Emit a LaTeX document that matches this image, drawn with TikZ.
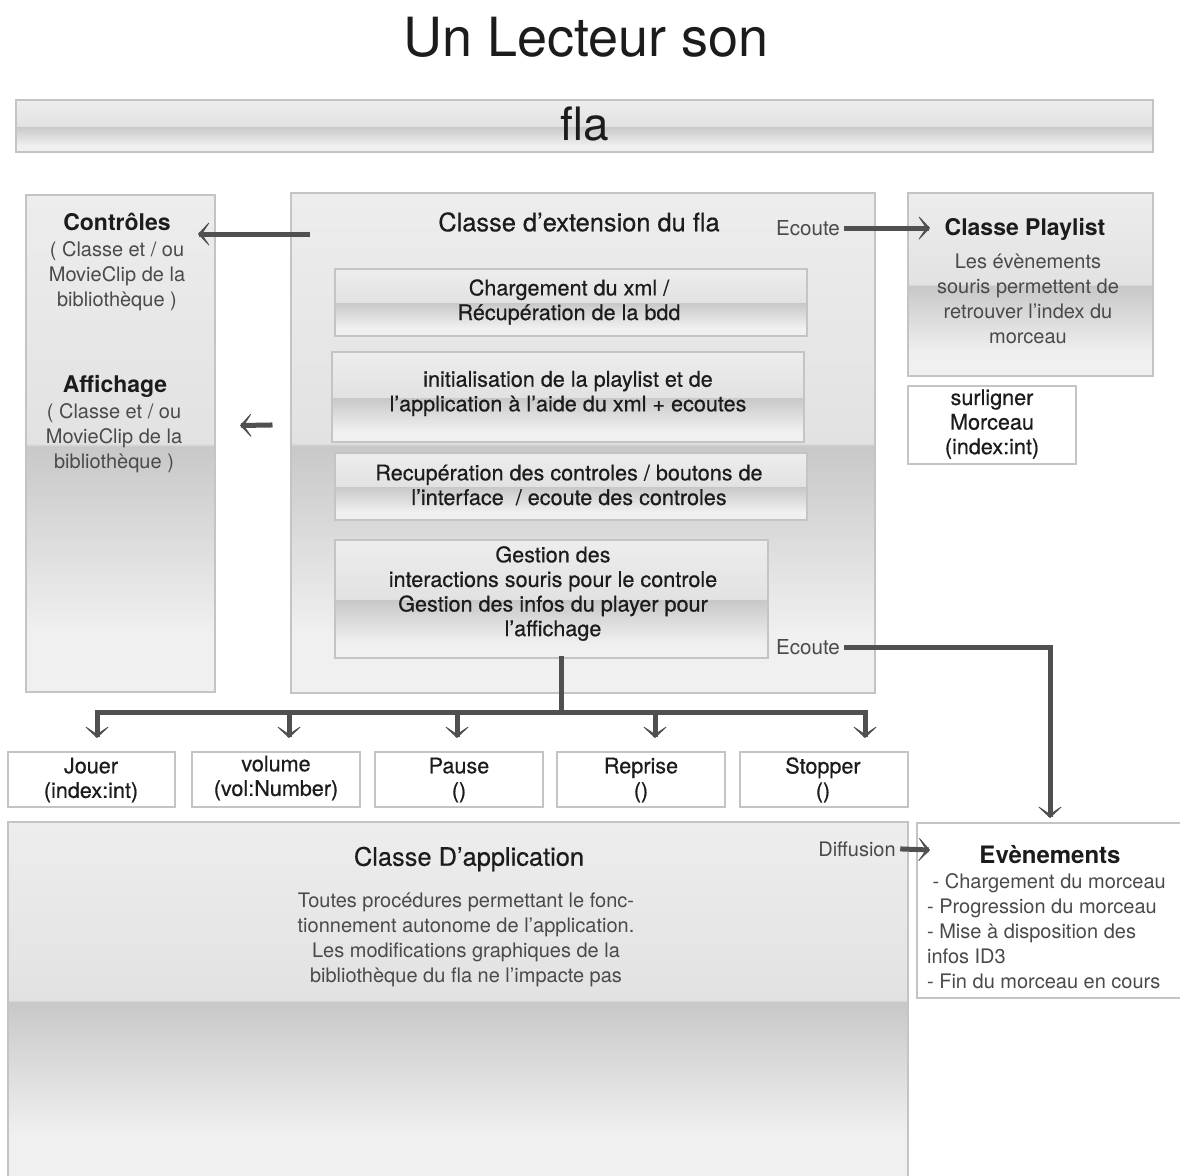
\documentclass[tikz,border=0pt]{standalone}
\usepackage{fontspec}
\setmainfont{TeX Gyre Heros}
\newfontfamily\medfont[FakeBold=0.5]{TeX Gyre Heros}
\usetikzlibrary{positioning,arrows.meta,fit,calc}

\definecolor{glTop}{HTML}{EDEDED}
\definecolor{glUp}{HTML}{E2E2E2}
\definecolor{glBand}{HTML}{C8C8C8}
\definecolor{glLow}{HTML}{F0F0F0}
\definecolor{edgegray}{HTML}{C4C4C4}
\definecolor{arrowgray}{HTML}{505050}
\definecolor{inkgray}{HTML}{4A4A4A}
\definecolor{ink}{HTML}{1C1C1C}

\pgfdeclareverticalshading{gloss}{100bp}{color(0bp)=(glLow); color(25bp)=(glLow); color(31bp)=(glLow); color(49.7bp)=(glBand); color(50bp)=(glUp); color(75bp)=(glTop); color(100bp)=(glTop)}

\begin{document}
\begin{tikzpicture}[x=0.5pt,y=-0.5pt,
  glossbox/.style={shade, shading=gloss, draw=edgegray, line width=0.75pt, inner sep=0pt, outer sep=0pt},
  plainbox/.style={fill=white, draw=edgegray, line width=0.75pt, inner sep=0pt, outer sep=0pt},
  head/.style={font=\bfseries\fontsize{11.5}{14}\selectfont, text=ink},
  title/.style={font=\medfont\fontsize{12.7}{15}\selectfont, text=ink},
  txt/.style={font=\medfont\fontsize{10.8}{12.3}\selectfont, text=ink, align=center},
  body/.style={font=\fontsize{10}{12.5}\selectfont, text=inkgray, align=center},
  note/.style={font=\fontsize{10.3}{12}\selectfont, text=inkgray},
  wire/.style={draw=arrowgray, line width=2.5pt, line cap=rect},
  flow/.style={wire, -{Stealth[length=7pt,width=15pt,inset=5pt,line width=0.4pt]}}]
  \useasboundingbox (0,0) rectangle (1180,1175);
  \fill[white] (0,0) rectangle (1180,1175);

  % cadres
  \node[glossbox, fit={(16,100) (1153,152)}] (flabar) {};
  \node[glossbox, fit={(26,195) (215,692)}] (ctrl) {};
  \node[glossbox, fit={(291,193) (875,693)}] (ext) {};
  \node[glossbox, fit={(908,193) (1153,376)}] (pl) {};
  \node[plainbox, fit={(908,386) (1076,464)}] (surl) {};
  \node[glossbox, fit={(335,269) (807,336)}] (charg) {};
  \node[glossbox, fit={(332,352) (804,442)}] (init) {};
  \node[glossbox, fit={(335,453) (807,520)}] (recup) {};
  \node[glossbox, fit={(335,540) (768,658)}] (gest) {};
  \node[plainbox, fit={(8,752) (175,807)}] (jouer) {};
  \node[plainbox, fit={(192,752) (360,807)}] (volume) {};
  \node[plainbox, fit={(375,752) (543,807)}] (pause) {};
  \node[plainbox, fit={(557,752) (725,807)}] (reprise) {};
  \node[plainbox, fit={(740,752) (908,807)}] (stopper) {};
  \node[glossbox, fit={(8,822) (908,1178)}] (app) {};
  \node[plainbox, fit={(917,823) (1183,998)}] (ev) {};

  % textes
  \node[font=\fontsize{27}{32}\selectfont, text=ink] (titre) at (586,37) {Un Lecteur son};
  \node[font=\fontsize{23}{28}\selectfont, text=ink] (flatxt) at (585,124) {fla};
  \node[head] (ctrlhd) at (117,222) {Contrôles};
  \node[body] (ctrlsub) at (117,276) {( Classe et / ou\\MovieClip de la\\bibliothèque )};
  \node[head] (affhd) at (115,386) {Affichage};
  \node[body] (affsub) at (114,438) {( Classe et / ou\\MovieClip de la\\bibliothèque )};
  \node[title] (exthd) at (579,222) {Classe d’extension du fla};
  \node[note] (ecoute1) at (808,228) {Ecoute};
  \node[txt] (chargtxt) at (569,302) {Chargement du xml /\\Récupération de la bdd};
  \node[txt] (inittxt) at (568,393.5) {initialisation de la playlist et de\\l’application à l’aide du xml + ecoutes};
  \node[txt] (recuptxt) at (569,485) {Recupération des controles / boutons de\\l’interface \ / ecoute des controles};
  \node[txt] (gesttxt) at (553,593.5) {Gestion des\\interactions souris pour le controle\\Gestion des infos du player pour\\l’affichage};
  \node[note] (ecoute2) at (808,647) {Ecoute};
  \node[head] (plhd) at (1025,229) {Classe Playlist};
  \node[body] (plbody) at (1028,299) {Les évènements\\souris permettent de\\retrouver l’index du\\morceau};
  \node[txt] (surltxt) at (992,424) {surligner\\Morceau\\(index:int)};
  \node[txt] (jouertxt) at (91,780) {Jouer\\(index:int)};
  \node[txt] (volumetxt) at (276,778) {volume\\(vol:Number)};
  \node[txt] (pausetxt) at (459,780) {Pause\\()};
  \node[txt] (reprisetxt) at (641,780) {Reprise\\()};
  \node[txt] (stoppertxt) at (823,780) {Stopper\\()};
  \node[title] (apphd) at (469,859) {Classe D’application};
  \node[body] (appbody) at (466,939.5) {Toutes procédures permettant le fonc-\\tionnement autonome de l’application.\\Les modifications graphiques de la\\bibliothèque du fla ne l’impacte pas};
  \node[note, font=\fontsize{10}{12}\selectfont] (diff) at (857,849) {Diffusion};
  \node[head, font=\bfseries\fontsize{12}{14}\selectfont] (evhd) at (1050,855) {Evènements};
  \node[body, align=left, anchor=west] (evlist) at (920,931) {\ - Chargement du morceau\\- Progression du morceau\\- Mise à disposition des\\infos ID3\\- Fin du morceau en cours};

  % liaisons
  \draw[flow] ($(ext.north west)+(16,41)$) -- ($(ctrl.north east)+(-17,39)$);
  \draw[flow] ($(ext.west)+(-21,-18)$) -- ($(ctrl.east)+(25,-18)$);
  \draw[flow] (ecoute1.east) -- ($(pl.north west)+(22,35)$);
  \draw[flow] (ecoute2.east) -| ($(ev.north)+(0,-5)$);
  \draw[flow] (diff.east) -- ($(ev.north west)+(13,27)$);
  \coordinate (split) at ($(gest.south)+(9.5,54)$);
  \draw[wire] ($(gest.south)+(9.5,0)$) -- (split);
  \draw[wire] ($(split -| jouer.north)+(5.5,0)$) -- ($(split -| stopper.north)+(41,0)$);
  \foreach \fn/\dx in {jouer/5.5, volume/13, pause/-2, reprise/14, stopper/41}
    \draw[flow] ($(split -| \fn.north)+(\dx,0)$) -- ($(\fn.north)+(\dx,-14)$);
\end{tikzpicture}
\end{document}
